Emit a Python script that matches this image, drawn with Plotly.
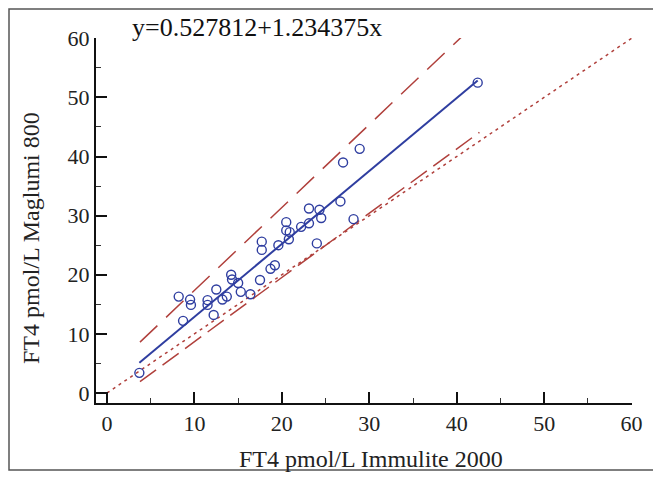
import plotly.graph_objects as go

# Data
x_vals = [3.7, 8.2, 8.7, 9.5, 9.6, 11.5, 11.5, 12.2, 12.5, 13.2, 13.7, 14.2, 14.3,
          15.0, 15.3, 16.4, 17.5, 17.7, 17.7, 18.7, 19.2, 19.6, 20.5, 20.5, 20.9,
          20.8, 22.2, 23.1, 23.1, 24.3, 24.5, 24.0, 26.7, 27.0, 28.2, 28.9, 42.4]
y_vals = [3.4, 16.3, 12.2, 15.8, 14.9, 15.7, 14.9, 13.2, 17.5, 15.8, 16.3, 20.0, 19.2,
          18.6, 17.1, 16.7, 19.1, 25.6, 24.2, 21.0, 21.6, 25.0, 28.9, 27.5, 27.2,
          26.0, 28.1, 31.2, 28.7, 31.0, 29.6, 25.3, 32.4, 39.0, 29.4, 41.3, 52.5]

intercept = 0.527812
slope = 1.234375
fit_x = [3.7, 42.4]

ci_x = [3.77, 42.6]
ci_upper_y = [8.6, 63.1]
ci_lower_y = [1.9, 44.1]

ident_x = [0, 60]
ident_y = [0, 60]

title_text = "y=0.527812+1.234375x"
x_title = "FT4 pmol/L Immulite 2000"
y_title = "FT4 pmol/L Maglumi 800"
tick_vals = [0, 10, 20, 30, 40, 50, 60]

BLUE = "#2f3ea0"
RED = "#b0403c"
FONT = "Liberation Serif"

# page body has an 8px margin; plot area target (screen px): x 96..632, y 38..403
OFF = 8
PL, PR, PT, PB = 96, 632, 38, 403
W, H = 661 - OFF, 477 - OFF
PW, PH = PR - PL, PB - PT

def px(xs):
    return (xs - PL) / PW

def py(ys):
    return (PB - ys) / PH

fig = go.Figure()
fig.add_trace(go.Scatter(x=ident_x, y=ident_y, mode="lines",
                         line=dict(color=RED, width=1.5, dash="3px,4px"), hoverinfo="skip"))
fig.add_trace(go.Scatter(x=ci_x, y=ci_upper_y, mode="lines",
                         line=dict(color=RED, width=1.5, dash="24px,12px"), hoverinfo="skip"))
fig.add_trace(go.Scatter(x=ci_x, y=ci_lower_y, mode="lines",
                         line=dict(color=RED, width=1.5, dash="20px,8px"), hoverinfo="skip"))
fig.add_trace(go.Scatter(x=fit_x, y=[intercept + slope * v for v in fit_x], mode="lines",
                         line=dict(color=BLUE, width=2)))
fig.add_trace(go.Scatter(x=x_vals, y=y_vals, mode="markers",
                         marker=dict(symbol="circle-open", size=9, color=BLUE,
                                     line=dict(width=1.4, color=BLUE))))

axis_common = dict(
    showgrid=False, zeroline=False, showline=True, linecolor="#111", linewidth=2,
    ticks="inside", ticklen=11, tickwidth=2, tickcolor="#111",
    tickvals=tick_vals,
    tickfont=dict(family=FONT, size=22, color="#222"),
    minor=dict(ticks="inside", ticklen=5, tickwidth=1, tickcolor="#333", dtick=5),
)
fig.update_xaxes(range=[-1.26, 60.05], **axis_common)
fig.update_yaxes(range=[-1.7, 60.05], **axis_common)

fig.add_annotation(text=title_text, xref="paper", yref="paper",
                   x=px(130), y=py(27), xanchor="left", yanchor="middle",
                   showarrow=False, font=dict(family=FONT, size=26, color="#111"))
fig.add_annotation(text=x_title, xref="paper", yref="paper",
                   x=px(371), y=py(459), xanchor="center", yanchor="middle",
                   showarrow=False, font=dict(family=FONT, size=24, color="#222"))
fig.add_annotation(text=y_title, xref="paper", yref="paper", textangle=-90,
                   x=px(31), y=py(238), xanchor="center", yanchor="middle",
                   showarrow=False, font=dict(family=FONT, size=24, color="#222"))

fig.add_shape(type="rect", xref="paper", yref="paper",
              x0=px(OFF + 1), x1=px(657),
              y0=py(470), y1=py(OFF + 1),
              line=dict(color="#555", width=1.5))

fig.update_layout(
    width=W, height=H, showlegend=False,
    margin=dict(l=PL - OFF, r=W - (PR - OFF), t=PT - OFF, b=H - (PB - OFF)),
    plot_bgcolor="white", paper_bgcolor="white",
)
fig.write_html("out.html")
